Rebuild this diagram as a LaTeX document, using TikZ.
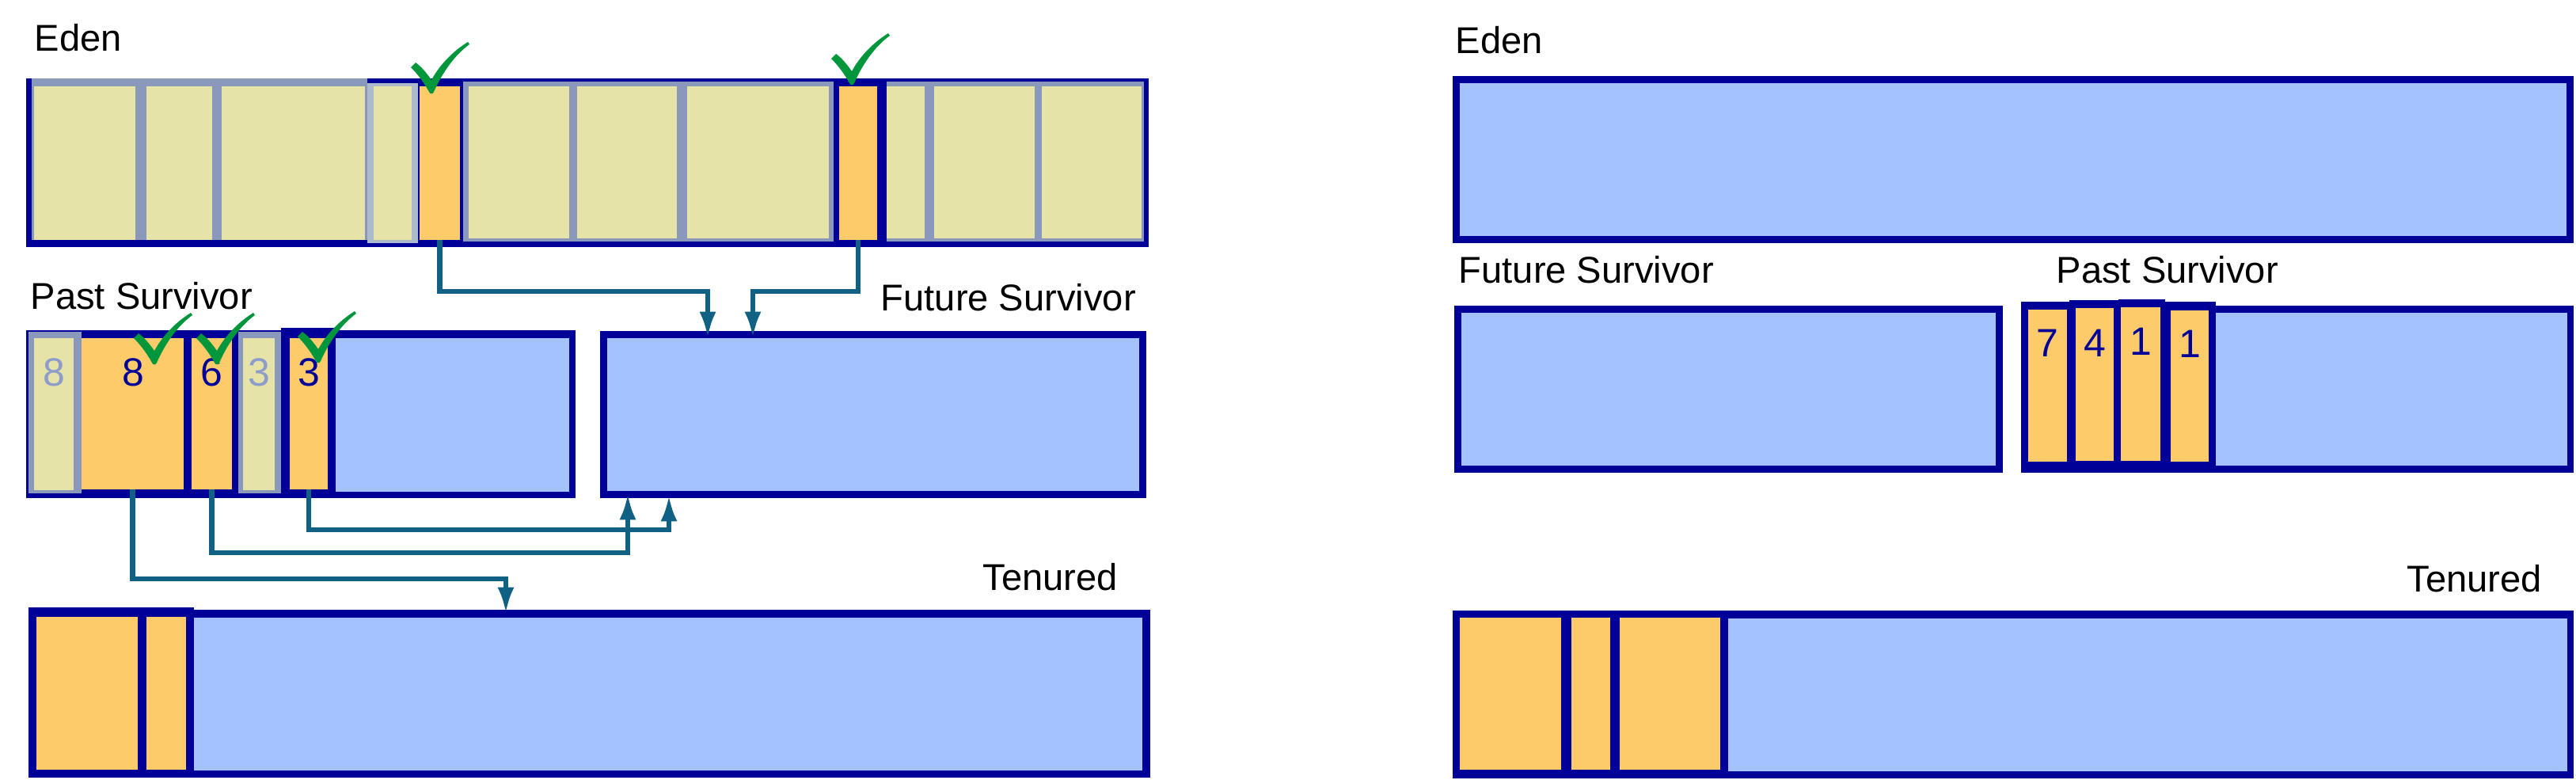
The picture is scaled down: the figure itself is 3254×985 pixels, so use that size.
\documentclass[tikz,border=0pt]{standalone}
\usepackage{fontspec}
\setmainfont{Liberation Sans}
\usetikzlibrary{fit,arrows.meta}
\definecolor{dkblue}{RGB}{0,0,153}
\definecolor{ltblue}{RGB}{164,194,255}
\definecolor{orng}{RGB}{253,203,106}
\definecolor{yel}{RGB}{230,227,168}
\definecolor{gframe}{RGB}{138,152,187}
\definecolor{gframelt}{RGB}{172,186,204}
\definecolor{tealc}{RGB}{16,97,132}
\definecolor{chk}{RGB}{0,150,60}
\definecolor{gnum}{RGB}{140,156,203}
\newcommand\cellbox[6]{\node[#1, fit={(#3,#4) (#5,#6)}] (#2) {};}
\begin{document}
\begin{tikzpicture}[x=0.01cm,y=-0.01cm,
  darkbox/.style={fill=dkblue, inner sep=0pt, outer sep=0pt},
  bluefill/.style={fill=ltblue, inner sep=0pt, outer sep=0pt},
  orangecell/.style={fill=orng, inner sep=0pt, outer sep=0pt},
  yellowcell/.style={fill=yel, inner sep=0pt, outer sep=0pt},
  greyframe/.style={fill=gframe, inner sep=0pt, outer sep=0pt},
  greyframelt/.style={fill=gframelt, inner sep=0pt, outer sep=0pt},
  lbl/.style={font=\fontsize{13.4pt}{16pt}\selectfont, anchor=base west, inner sep=0pt},
  num/.style={font=\fontsize{14.2pt}{16pt}\selectfont, inner sep=0pt, text=dkblue},
  deadnum/.style={num, text=gnum},
  conn/.style={draw=tealc, line width=1.8pt, -{Latex[length=9.5pt,width=6pt]}},
  tick/.pic={\fill[chk] (-26,-30) .. controls (-17,-21) and (-9,-10) .. (-3,1)
      .. controls (-2,4) and (2,4) .. (3,1)
      .. controls (14,-24) and (30,-46) .. (48,-59) -- (46,-62)
      .. controls (27,-50) and (11,-34) .. (0,-14)
      .. controls (-7,-24) and (-13,-31) .. (-20,-36) -- cycle;}
]
\useasboundingbox (0,0) rectangle (3254,985);

% ================= LEFT: Eden =================
\node[lbl] (edenL) at (43,65) {Eden};
\cellbox{darkbox}{edenLbox}{33}{99}{1451}{312}
\cellbox{greyframe}{gA}{40}{99}{464}{303}
\cellbox{yellowcell}{ya1}{43}{109}{171}{303}
\cellbox{yellowcell}{ya2}{185}{109}{268}{303}
\cellbox{yellowcell}{ya3}{280}{109}{461}{303}
\cellbox{greyframelt}{gA4}{464}{105}{528}{307}
\cellbox{yellowcell}{ya4}{472}{109}{520}{303}
\cellbox{orangecell}{eo1}{530}{109}{581}{303}
\cellbox{greyframe}{gB}{585}{103}{1053}{305}
\cellbox{yellowcell}{yb1}{592}{109}{719}{301}
\cellbox{yellowcell}{yb2}{729}{109}{855}{301}
\cellbox{yellowcell}{yb3}{868}{109}{1047}{301}
\cellbox{orangecell}{eo2}{1060}{109}{1108}{303}
\cellbox{greyframe}{gC}{1120}{103}{1445}{305}
\cellbox{yellowcell}{yc1}{1120}{109}{1168}{301}
\cellbox{yellowcell}{yc2}{1180}{109}{1307}{301}
\cellbox{yellowcell}{yc3}{1316}{109}{1442}{301}

% ================= LEFT: Past Survivor =================
\node[lbl] (pastL) at (38,390) {Past Survivor};
\cellbox{darkbox}{pastLbox}{33}{417}{727}{629}
\cellbox{greyframe}{pg1}{36}{419}{103}{623}
\cellbox{yellowcell}{py1}{43}{427}{93}{619}
\cellbox{orangecell}{ps8}{103}{427}{232}{618}
\cellbox{orangecell}{ps6}{242}{427}{293}{618}
\cellbox{greyframe}{pg2}{301}{419}{355}{623}
\cellbox{yellowcell}{py2}{307}{427}{347}{619}
\cellbox{darkbox}{pd3}{355}{414}{424}{629}
\cellbox{orangecell}{ps3}{366}{427}{414}{618}
\cellbox{bluefill}{pastLfree}{424}{427}{719}{621}
\node[deadnum] (n8d) at (68,470) {8};
\node[num] (n8) at (168,470) {8};
\node[num] (n6) at (267,470) {6};
\node[deadnum] (n3d) at (327,470) {3};
\node[num] (n3) at (390,470) {3};

% ================= LEFT: Future Survivor =================
\node[lbl] (futL) at (1112,392) {Future Survivor};
\cellbox{darkbox}{futLbox}{758}{418}{1448}{629}
\cellbox{bluefill}{futLin}{767}{427}{1439}{620}

% ================= LEFT: Tenured =================
\node[lbl] (tenL) at (1241,745) {Tenured};
\cellbox{darkbox}{tenLbox}{36}{770}{1453}{982}
\cellbox{darkbox}{tenLcells}{36}{767}{245}{982}
\cellbox{orangecell}{to1}{46}{779}{174}{972}
\cellbox{orangecell}{to2}{185}{779}{235}{972}
\cellbox{bluefill}{tenLfree}{245}{780}{1443}{973}

% ================= connectors =================
\coordinate (t1) at (894,427);
\coordinate (t2) at (951,427);
\coordinate (t3) at (639,775);
\coordinate (t4) at (793,623);
\coordinate (t5) at (845,625);
\draw[conn] (eo1.south) -- ++(0,65) -| (t1);
\draw[conn] (eo2.south) -- ++(0,65) -| (t2);
\draw[conn] (ps8.south) -- ++(0,113) -| (t3);
\draw[conn] (ps6.south) -- ++(0,80) -| (t4);
\draw[conn] (ps3.south) -- ++(0,51) -| (t5);

% ================= check marks =================
\pic at (545,115) {tick};
\pic at (1076,104) {tick};
\pic at (195,457) {tick};
\pic at (274,457) {tick};
\pic at (402,455) {tick};

% ================= RIGHT: Eden =================
\node[lbl] (edenR) at (1838,68) {Eden};
\cellbox{darkbox}{edenRbox}{1835}{96}{3251}{307}
\cellbox{bluefill}{edenRin}{1844}{105}{3242}{298}

% ================= RIGHT: Future Survivor =================
\node[lbl] (futR) at (1842,357) {Future Survivor};
\cellbox{darkbox}{futRbox}{1837}{386}{2530}{597}
\cellbox{bluefill}{futRin}{1846}{395}{2521}{588}

% ================= RIGHT: Past Survivor =================
\node[lbl] (pastR) at (2597,357) {Past Survivor};
\cellbox{darkbox}{pastRbox}{2553}{386}{3251}{597}
\cellbox{darkbox}{pr1f}{2553}{381}{2614}{597}
\cellbox{darkbox}{pr2f}{2614}{379}{2676}{597}
\cellbox{darkbox}{pr3f}{2676}{378}{2735}{597}
\cellbox{darkbox}{pr4f}{2735}{381}{2799}{597}
\cellbox{orangecell}{pr1}{2562}{391}{2611}{583}
\cellbox{orangecell}{pr2}{2622}{389}{2670}{582}
\cellbox{orangecell}{pr3}{2679}{388}{2729}{582}
\cellbox{orangecell}{pr4}{2742}{392}{2790}{583}
\cellbox{bluefill}{pastRfree}{2799}{395}{3243}{588}
\node[num] (r7) at (2586,433) {7};
\node[num] (r4) at (2646,433) {4};
\node[num] (r1a) at (2704,431) {1};
\node[num] (r1b) at (2766,434) {1};

% ================= RIGHT: Tenured =================
\node[lbl] (tenR) at (3040,747) {Tenured};
\cellbox{darkbox}{tenRbox}{1835}{771}{3251}{983}
\cellbox{orangecell}{tr1}{1844}{780}{1972}{972}
\cellbox{orangecell}{tr2}{1985}{780}{2034}{972}
\cellbox{orangecell}{tr3}{2046}{780}{2173}{972}
\cellbox{bluefill}{tenRfree}{2183}{781}{3243}{974}
\end{tikzpicture}
\end{document}
